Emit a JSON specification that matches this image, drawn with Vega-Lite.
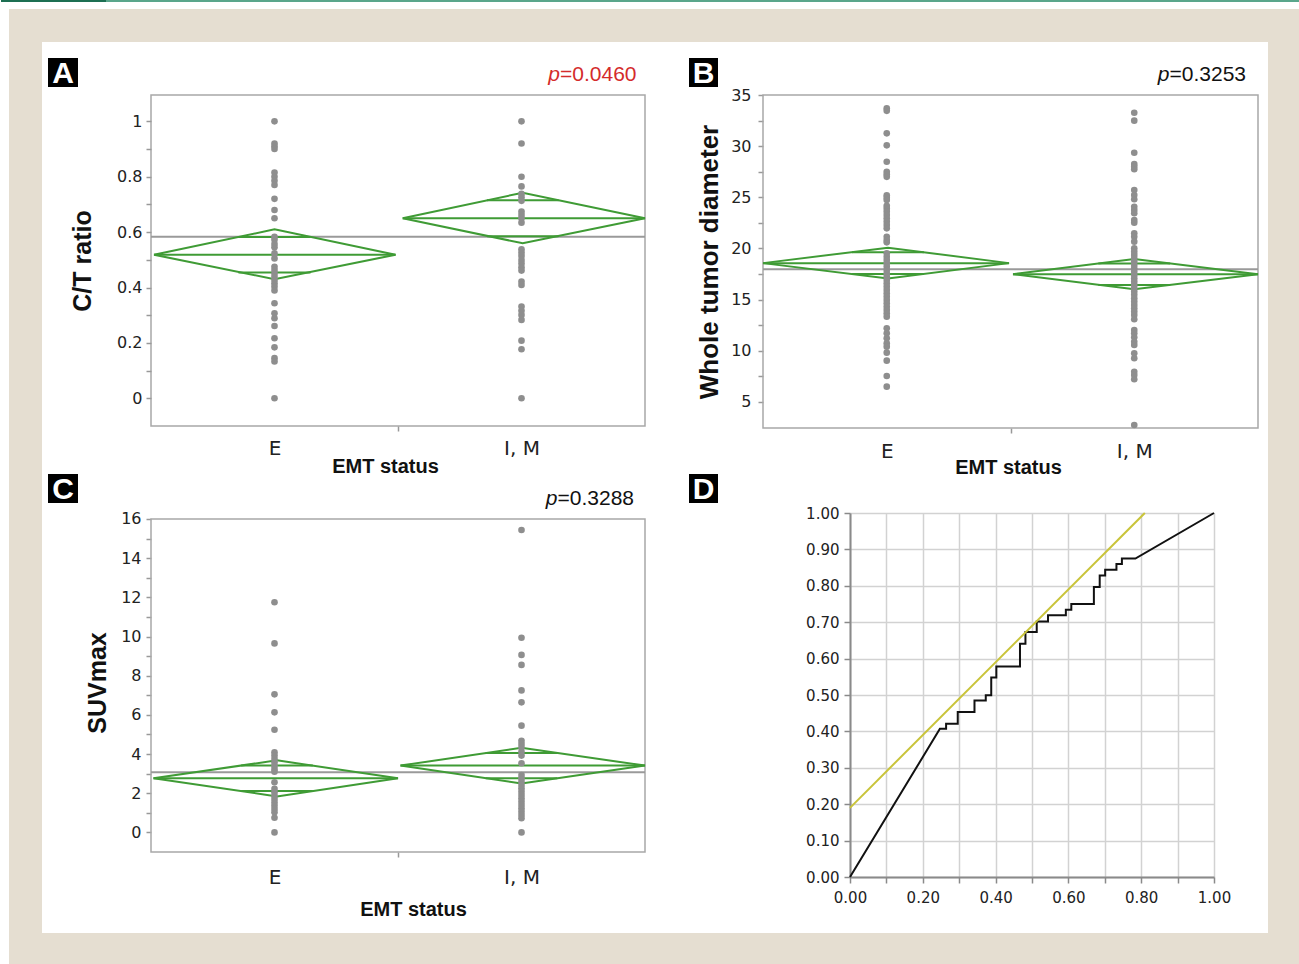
{
"$schema": "https://vega.github.io/schema/vega-lite/v6.json",
"padding": 0,
"background": "white",
"config": {"view": {"stroke": null}, "axis": {"labelFont": "DejaVu Sans", "labelColor": "#222222", "titleColor": "#111111", "tickCount": 100}},
"datasets": {
"groups": [{"g": "E", "gx": 1}, {"g": "I, M", "gx": 2}],
"pts": [
{"p":"A","g":"E","v":1.0},{"p":"A","g":"E","v":0.92},{"p":"A","g":"E","v":0.91},{"p":"A","g":"E","v":0.90},{"p":"A","g":"E","v":0.815},{"p":"A","g":"E","v":0.80},{"p":"A","g":"E","v":0.785},{"p":"A","g":"E","v":0.77},{"p":"A","g":"E","v":0.72},{"p":"A","g":"E","v":0.68},{"p":"A","g":"E","v":0.65},{"p":"A","g":"E","v":0.583},{"p":"A","g":"E","v":0.572},{"p":"A","g":"E","v":0.557},{"p":"A","g":"E","v":0.545},{"p":"A","g":"E","v":0.523},{"p":"A","g":"E","v":0.505},{"p":"A","g":"E","v":0.475},{"p":"A","g":"E","v":0.463},{"p":"A","g":"E","v":0.451},{"p":"A","g":"E","v":0.439},{"p":"A","g":"E","v":0.427},{"p":"A","g":"E","v":0.415},{"p":"A","g":"E","v":0.403},{"p":"A","g":"E","v":0.389},{"p":"A","g":"E","v":0.343},{"p":"A","g":"E","v":0.307},{"p":"A","g":"E","v":0.289},{"p":"A","g":"E","v":0.261},{"p":"A","g":"E","v":0.217},{"p":"A","g":"E","v":0.184},{"p":"A","g":"E","v":0.145},{"p":"A","g":"E","v":0.133},{"p":"A","g":"E","v":0.0},
{"p":"A","g":"I, M","v":1.0},{"p":"A","g":"I, M","v":0.92},{"p":"A","g":"I, M","v":0.80},{"p":"A","g":"I, M","v":0.765},{"p":"A","g":"I, M","v":0.738},{"p":"A","g":"I, M","v":0.726},{"p":"A","g":"I, M","v":0.713},{"p":"A","g":"I, M","v":0.674},{"p":"A","g":"I, M","v":0.662},{"p":"A","g":"I, M","v":0.65},{"p":"A","g":"I, M","v":0.634},{"p":"A","g":"I, M","v":0.538},{"p":"A","g":"I, M","v":0.526},{"p":"A","g":"I, M","v":0.514},{"p":"A","g":"I, M","v":0.499},{"p":"A","g":"I, M","v":0.487},{"p":"A","g":"I, M","v":0.473},{"p":"A","g":"I, M","v":0.461},{"p":"A","g":"I, M","v":0.421},{"p":"A","g":"I, M","v":0.409},{"p":"A","g":"I, M","v":0.331},{"p":"A","g":"I, M","v":0.316},{"p":"A","g":"I, M","v":0.301},{"p":"A","g":"I, M","v":0.283},{"p":"A","g":"I, M","v":0.208},{"p":"A","g":"I, M","v":0.177},{"p":"A","g":"I, M","v":0.0},
{"p":"B","g":"E","v":33.7},{"p":"B","g":"E","v":33.45},{"p":"B","g":"E","v":31.25},{"p":"B","g":"E","v":30.08},{"p":"B","g":"E","v":28.48},{"p":"B","g":"E","v":27.5},{"p":"B","g":"E","v":27.25},{"p":"B","g":"E","v":27.0},{"p":"B","g":"E","v":25.2},{"p":"B","g":"E","v":24.97},{"p":"B","g":"E","v":24.74},{"p":"B","g":"E","v":24.18},{"p":"B","g":"E","v":23.92},{"p":"B","g":"E","v":23.6},{"p":"B","g":"E","v":23.27},{"p":"B","g":"E","v":22.95},{"p":"B","g":"E","v":22.62},{"p":"B","g":"E","v":22.3},{"p":"B","g":"E","v":21.97},{"p":"B","g":"E","v":21.15},{"p":"B","g":"E","v":20.83},{"p":"B","g":"E","v":20.6},{"p":"B","g":"E","v":19.53},{"p":"B","g":"E","v":19.2},{"p":"B","g":"E","v":18.88},{"p":"B","g":"E","v":18.55},{"p":"B","g":"E","v":18.23},{"p":"B","g":"E","v":17.9},{"p":"B","g":"E","v":17.58},{"p":"B","g":"E","v":17.25},{"p":"B","g":"E","v":16.92},{"p":"B","g":"E","v":16.6},{"p":"B","g":"E","v":16.27},{"p":"B","g":"E","v":15.94},{"p":"B","g":"E","v":15.62},{"p":"B","g":"E","v":15.29},{"p":"B","g":"E","v":14.97},{"p":"B","g":"E","v":14.64},{"p":"B","g":"E","v":14.31},{"p":"B","g":"E","v":13.99},{"p":"B","g":"E","v":13.66},{"p":"B","g":"E","v":13.34},{"p":"B","g":"E","v":12.2},{"p":"B","g":"E","v":11.71},{"p":"B","g":"E","v":11.23},{"p":"B","g":"E","v":10.74},{"p":"B","g":"E","v":10.41},{"p":"B","g":"E","v":9.82},{"p":"B","g":"E","v":9.04},{"p":"B","g":"E","v":7.54},{"p":"B","g":"E","v":6.5},
{"p":"B","g":"I, M","v":33.27},{"p":"B","g":"I, M","v":32.49},{"p":"B","g":"I, M","v":29.36},{"p":"B","g":"I, M","v":28.26},{"p":"B","g":"I, M","v":28.0},{"p":"B","g":"I, M","v":27.74},{"p":"B","g":"I, M","v":25.72},{"p":"B","g":"I, M","v":25.23},{"p":"B","g":"I, M","v":24.81},{"p":"B","g":"I, M","v":24.08},{"p":"B","g":"I, M","v":23.76},{"p":"B","g":"I, M","v":23.44},{"p":"B","g":"I, M","v":22.78},{"p":"B","g":"I, M","v":22.52},{"p":"B","g":"I, M","v":21.48},{"p":"B","g":"I, M","v":21.15},{"p":"B","g":"I, M","v":20.67},{"p":"B","g":"I, M","v":20.02},{"p":"B","g":"I, M","v":19.69},{"p":"B","g":"I, M","v":19.37},{"p":"B","g":"I, M","v":19.04},{"p":"B","g":"I, M","v":18.72},{"p":"B","g":"I, M","v":18.39},{"p":"B","g":"I, M","v":18.07},{"p":"B","g":"I, M","v":17.74},{"p":"B","g":"I, M","v":17.42},{"p":"B","g":"I, M","v":17.09},{"p":"B","g":"I, M","v":16.77},{"p":"B","g":"I, M","v":16.44},{"p":"B","g":"I, M","v":16.12},{"p":"B","g":"I, M","v":15.79},{"p":"B","g":"I, M","v":15.47},{"p":"B","g":"I, M","v":15.14},{"p":"B","g":"I, M","v":14.81},{"p":"B","g":"I, M","v":14.49},{"p":"B","g":"I, M","v":14.16},{"p":"B","g":"I, M","v":13.84},{"p":"B","g":"I, M","v":13.51},{"p":"B","g":"I, M","v":13.09},{"p":"B","g":"I, M","v":12.04},{"p":"B","g":"I, M","v":11.71},{"p":"B","g":"I, M","v":11.32},{"p":"B","g":"I, M","v":10.89},{"p":"B","g":"I, M","v":10.57},{"p":"B","g":"I, M","v":9.76},{"p":"B","g":"I, M","v":9.27},{"p":"B","g":"I, M","v":7.96},{"p":"B","g":"I, M","v":7.64},{"p":"B","g":"I, M","v":7.22},{"p":"B","g":"I, M","v":2.75},
{"p":"C","g":"E","v":11.75},{"p":"C","g":"E","v":9.65},{"p":"C","g":"E","v":7.05},{"p":"C","g":"E","v":6.13},{"p":"C","g":"E","v":5.24},{"p":"C","g":"E","v":4.09},{"p":"C","g":"E","v":3.92},{"p":"C","g":"E","v":3.75},{"p":"C","g":"E","v":3.58},{"p":"C","g":"E","v":3.40},{"p":"C","g":"E","v":3.24},{"p":"C","g":"E","v":3.10},{"p":"C","g":"E","v":2.56},{"p":"C","g":"E","v":2.22},{"p":"C","g":"E","v":2.05},{"p":"C","g":"E","v":1.87},{"p":"C","g":"E","v":1.70},{"p":"C","g":"E","v":1.53},{"p":"C","g":"E","v":1.36},{"p":"C","g":"E","v":1.19},{"p":"C","g":"E","v":1.03},{"p":"C","g":"E","v":0.75},{"p":"C","g":"E","v":0.0},
{"p":"C","g":"I, M","v":15.44},{"p":"C","g":"I, M","v":9.94},{"p":"C","g":"I, M","v":9.06},{"p":"C","g":"I, M","v":8.55},{"p":"C","g":"I, M","v":7.25},{"p":"C","g":"I, M","v":6.64},{"p":"C","g":"I, M","v":5.45},{"p":"C","g":"I, M","v":4.68},{"p":"C","g":"I, M","v":4.51},{"p":"C","g":"I, M","v":4.34},{"p":"C","g":"I, M","v":4.12},{"p":"C","g":"I, M","v":3.92},{"p":"C","g":"I, M","v":3.53},{"p":"C","g":"I, M","v":2.93},{"p":"C","g":"I, M","v":2.76},{"p":"C","g":"I, M","v":2.59},{"p":"C","g":"I, M","v":2.42},{"p":"C","g":"I, M","v":2.25},{"p":"C","g":"I, M","v":2.08},{"p":"C","g":"I, M","v":1.91},{"p":"C","g":"I, M","v":1.74},{"p":"C","g":"I, M","v":1.57},{"p":"C","g":"I, M","v":1.40},{"p":"C","g":"I, M","v":1.23},{"p":"C","g":"I, M","v":1.06},{"p":"C","g":"I, M","v":0.89},{"p":"C","g":"I, M","v":0.72},{"p":"C","g":"I, M","v":0.0}
],
"diam": [
{"p":"A","g":"E","k":0,"x":0.512,"y":0.5185},{"p":"A","g":"E","k":1,"x":1.0,"y":0.610},{"p":"A","g":"E","k":2,"x":1.49,"y":0.5185},{"p":"A","g":"E","k":3,"x":1.0,"y":0.4297},{"p":"A","g":"E","k":4,"x":0.512,"y":0.5185},
{"p":"A","g":"I, M","k":0,"x":1.519,"y":0.650},{"p":"A","g":"I, M","k":1,"x":2.005,"y":0.7423},{"p":"A","g":"I, M","k":2,"x":2.5,"y":0.650},{"p":"A","g":"I, M","k":3,"x":2.005,"y":0.5596},{"p":"A","g":"I, M","k":4,"x":1.519,"y":0.650},
{"p":"B","g":"E","k":0,"x":0.5,"y":18.57},{"p":"B","g":"E","k":1,"x":1.005,"y":20.08},{"p":"B","g":"E","k":2,"x":1.494,"y":18.57},{"p":"B","g":"E","k":3,"x":1.005,"y":17.07},{"p":"B","g":"E","k":4,"x":0.5,"y":18.57},
{"p":"B","g":"I, M","k":0,"x":1.51,"y":17.49},{"p":"B","g":"I, M","k":1,"x":2.0,"y":18.97},{"p":"B","g":"I, M","k":2,"x":2.5,"y":17.49},{"p":"B","g":"I, M","k":3,"x":2.0,"y":16.01},{"p":"B","g":"I, M","k":4,"x":1.51,"y":17.49},
{"p":"C","g":"E","k":0,"x":0.51,"y":2.76},{"p":"C","g":"E","k":1,"x":1.01,"y":3.68},{"p":"C","g":"E","k":2,"x":1.5,"y":2.76},{"p":"C","g":"E","k":3,"x":1.01,"y":1.84},{"p":"C","g":"E","k":4,"x":0.51,"y":2.76},
{"p":"C","g":"I, M","k":0,"x":1.51,"y":3.41},{"p":"C","g":"I, M","k":1,"x":2.0,"y":4.32},{"p":"C","g":"I, M","k":2,"x":2.5,"y":3.41},{"p":"C","g":"I, M","k":3,"x":2.0,"y":2.50},{"p":"C","g":"I, M","k":4,"x":1.51,"y":3.41}
],
"seg": [
{"p":"A","g":"all","kind":"grand","x":0.5,"x2":2.5,"y":0.5835},
{"p":"A","g":"E","kind":"mean","x":0.512,"x2":1.49,"y":0.5185},{"p":"A","g":"E","kind":"upper","x":0.854,"x2":1.146,"y":0.5824},{"p":"A","g":"E","kind":"lower","x":0.854,"x2":1.146,"y":0.4546},
{"p":"A","g":"I, M","kind":"mean","x":1.519,"x2":2.5,"y":0.650},{"p":"A","g":"I, M","kind":"upper","x":1.86,"x2":2.15,"y":0.7146},{"p":"A","g":"I, M","kind":"lower","x":1.86,"x2":2.15,"y":0.5854},
{"p":"B","g":"all","kind":"grand","x":0.5,"x2":2.5,"y":17.97},
{"p":"B","g":"E","kind":"mean","x":0.5,"x2":1.494,"y":18.57},{"p":"B","g":"E","kind":"upper","x":0.86,"x2":1.15,"y":19.63},{"p":"B","g":"E","kind":"lower","x":0.86,"x2":1.15,"y":17.51},
{"p":"B","g":"I, M","kind":"mean","x":1.51,"x2":2.5,"y":17.49},{"p":"B","g":"I, M","kind":"upper","x":1.855,"x2":2.145,"y":18.54},{"p":"B","g":"I, M","kind":"lower","x":1.855,"x2":2.145,"y":16.44},
{"p":"C","g":"all","kind":"grand","x":0.5,"x2":2.5,"y":3.07},
{"p":"C","g":"E","kind":"mean","x":0.51,"x2":1.5,"y":2.76},{"p":"C","g":"E","kind":"upper","x":0.865,"x2":1.155,"y":3.41},{"p":"C","g":"E","kind":"lower","x":0.865,"x2":1.155,"y":2.11},
{"p":"C","g":"I, M","kind":"mean","x":1.51,"x2":2.5,"y":3.41},{"p":"C","g":"I, M","kind":"upper","x":1.855,"x2":2.145,"y":4.05},{"p":"C","g":"I, M","kind":"lower","x":1.855,"x2":2.145,"y":2.77}
],
"roc": [
{"i":0,"fpr":0,"tpr":0},{"i":1,"fpr":0.247,"tpr":0.407},{"i":2,"fpr":0.264,"tpr":0.407},{"i":3,"fpr":0.264,"tpr":0.421},{"i":4,"fpr":0.296,"tpr":0.421},{"i":5,"fpr":0.296,"tpr":0.453},{"i":6,"fpr":0.342,"tpr":0.453},{"i":7,"fpr":0.342,"tpr":0.485},{"i":8,"fpr":0.373,"tpr":0.485},{"i":9,"fpr":0.373,"tpr":0.499},{"i":10,"fpr":0.388,"tpr":0.499},{"i":11,"fpr":0.388,"tpr":0.548},{"i":12,"fpr":0.402,"tpr":0.548},{"i":13,"fpr":0.402,"tpr":0.578},{"i":14,"fpr":0.467,"tpr":0.578},{"i":15,"fpr":0.467,"tpr":0.641},{"i":16,"fpr":0.482,"tpr":0.641},{"i":17,"fpr":0.482,"tpr":0.673},{"i":18,"fpr":0.513,"tpr":0.673},{"i":19,"fpr":0.513,"tpr":0.702},{"i":20,"fpr":0.544,"tpr":0.702},{"i":21,"fpr":0.544,"tpr":0.719},{"i":22,"fpr":0.593,"tpr":0.719},{"i":23,"fpr":0.593,"tpr":0.734},{"i":24,"fpr":0.608,"tpr":0.734},{"i":25,"fpr":0.608,"tpr":0.75},{"i":26,"fpr":0.670,"tpr":0.75},{"i":27,"fpr":0.670,"tpr":0.797},{"i":28,"fpr":0.686,"tpr":0.797},{"i":29,"fpr":0.686,"tpr":0.828},{"i":30,"fpr":0.701,"tpr":0.828},{"i":31,"fpr":0.701,"tpr":0.844},{"i":32,"fpr":0.732,"tpr":0.844},{"i":33,"fpr":0.732,"tpr":0.860},{"i":34,"fpr":0.747,"tpr":0.860},{"i":35,"fpr":0.747,"tpr":0.875},{"i":36,"fpr":0.784,"tpr":0.875},{"i":37,"fpr":1,"tpr":1}
],
"ref": [{"fpr":0,"tpr":0.19},{"fpr":0.81,"tpr":1.0}]
},
"spacing": 418,
"bounds": "flush",
"vconcat": [
{
"spacing": 118,
"bounds": "flush",
"hconcat": [
{
"width": 494, "height": 331,
"layer": [
{"data":{"values":[{}]},"mark":{"type":"rect","fill":"#e5ded1"},"encoding":{"x":{"datum":-0.0749,"type":"quantitative","scale":{"domain":[0.5,2.5],"nice":false,"zero":false}},"x2":{"datum":5.15182},"y":{"datum":1.40547,"type":"quantitative","scale":{"domain":[-0.1,1.095],"nice":false,"zero":false}},"y2":{"datum":-2.04223}}},
{"data":{"values":[{}]},"mark":{"type":"rect","fill":"#ffffff"},"encoding":{"x":{"datum":0.0587,"type":"quantitative","scale":{"domain":[0.5,2.5],"nice":false,"zero":false}},"x2":{"datum":5.02227},"y":{"datum":1.28634,"type":"quantitative","scale":{"domain":[-0.1,1.095],"nice":false,"zero":false}},"y2":{"datum":-1.93032}}},
{"data":{"values":[{}]},"mark":{"type":"rect","fill":"#1d6f52"},"encoding":{"x":{"datum":-0.10729,"type":"quantitative","scale":{"domain":[0.5,2.5],"nice":false,"zero":false}},"x2":{"datum":0.31781},"y":{"datum":1.43796,"type":"quantitative","scale":{"domain":[-0.1,1.095],"nice":false,"zero":false}},"y2":{"datum":1.43074}}},
{"data":{"values":[{}]},"mark":{"type":"rect","fill":"#5aa68b"},"encoding":{"x":{"datum":0.31781,"type":"quantitative","scale":{"domain":[0.5,2.5],"nice":false,"zero":false}},"x2":{"datum":5.15182},"y":{"datum":1.43796,"type":"quantitative","scale":{"domain":[-0.1,1.095],"nice":false,"zero":false}},"y2":{"datum":1.43074}}},
{"data":{"values":[{}]},"mark":{"type":"rect","filled":false,"color":"#a8a8a8","strokeWidth":1.5},"encoding":{
 "x":{"datum":0.5,"type":"quantitative","scale":{"domain":[0.5,2.5],"nice":false,"zero":false},"axis":{"title":"EMT status","titleX":234,"titlePadding":-2,"titleFont":"Liberation Sans","titleFontSize":20,"titleFontWeight":"bold","values":[1,1.5,2],"tickCount":100,"labelExpr":"datum.value == 1 ? 'E' : (datum.value == 2 ? 'I, M' : '')","labelFontSize":20,"labelPadding":7,"labelOverlap":false,"labelFlush":false,"domain":false,"grid":false,"tickSize":5,"tickWidth":1.5,"tickColor":{"condition":{"test":"datum.value == 1.5","value":"#999999"},"value":"transparent"},"zindex":1}},
 "x2":{"datum":2.5},
 "y":{"datum":-0.1,"type":"quantitative","scale":{"domain":[-0.1,1.095],"nice":false,"zero":false},"axis":{"title":"C/T ratio","titlePadding":21,"titleFont":"Liberation Sans","titleFontSize":25,"titleFontWeight":"bold","values":[0,0.1,0.2,0.3,0.4,0.5,0.6,0.7,0.8,0.9,1],"tickCount":100,"labelExpr":"round(datum.value*10) % 2 == 0 ? format(datum.value,'~g') : ''","labelFontSize":16,"labelPadding":4,"labelOverlap":false,"labelFlush":false,"domain":false,"grid":false,"tickSize":5,"tickWidth":1.5,"tickColor":"#999999","zindex":1}},
 "y2":{"datum":1.095}}},
{"data":{"name":"seg"},"transform":[{"filter":"datum.p == 'A' && datum.kind == 'grand'"}],"mark":{"type":"rule","color":"#9a9a9a","strokeWidth":2},"encoding":{"x":{"field":"x","type":"quantitative","scale":{"domain":[0.5,2.5],"nice":false,"zero":false}},"x2":{"field":"x2"},"y":{"field":"y","type":"quantitative","scale":{"domain":[-0.1,1.095],"nice":false,"zero":false}}}},
{"data":{"name":"diam"},"transform":[{"filter":"datum.p == 'A'"}],"mark":{"type":"line","color":"#3f9b35","strokeWidth":2},"encoding":{"x":{"field":"x","type":"quantitative","scale":{"domain":[0.5,2.5],"nice":false,"zero":false}},"y":{"field":"y","type":"quantitative","scale":{"domain":[-0.1,1.095],"nice":false,"zero":false}},"detail":{"field":"g"},"order":{"field":"k"}}},
{"data":{"name":"seg"},"transform":[{"filter":"datum.p == 'A' && datum.kind != 'grand'"}],"mark":{"type":"rule","color":"#3f9b35","strokeWidth":2},"encoding":{"x":{"field":"x","type":"quantitative","scale":{"domain":[0.5,2.5],"nice":false,"zero":false}},"x2":{"field":"x2"},"y":{"field":"y","type":"quantitative","scale":{"domain":[-0.1,1.095],"nice":false,"zero":false}}}},
{"data":{"name":"pts"},"transform":[{"filter":"datum.p == 'A'"},{"lookup":"g","from":{"data":{"name":"groups"},"key":"g","fields":["gx"]}}],"mark":{"type":"circle","size":44,"color":"#8e8e8e","opacity":1},"encoding":{"x":{"field":"gx","type":"quantitative","scale":{"domain":[0.5,2.5],"nice":false,"zero":false}},"y":{"field":"v","type":"quantitative","scale":{"domain":[-0.1,1.095],"nice":false,"zero":false}}}},
{"data":{"values":[{}]},"mark":{"type":"rect","fill":"#000000"},"encoding":{"x":{"datum":0.083,"type":"quantitative","scale":{"domain":[0.5,2.5],"nice":false,"zero":false}},"x2":{"datum":0.20445},"y":{"datum":1.22857,"type":"quantitative","scale":{"domain":[-0.1,1.095],"nice":false,"zero":false}},"y2":{"datum":1.12388}}},
{"data":{"values":[{}]},"mark":{"type":"text","text":"A","font":"Liberation Sans","fontWeight":"bold","fontSize":30,"color":"#ffffff","align":"center","baseline":"alphabetic"},"encoding":{"x":{"datum":0.14372,"type":"quantitative","scale":{"domain":[0.5,2.5],"nice":false,"zero":false}},"y":{"datum":1.1383,"type":"quantitative","scale":{"domain":[-0.1,1.095],"nice":false,"zero":false}}}},
{"data":{"values":[{}]},"mark":{"type":"text","text":"p","font":"Liberation Sans","fontStyle":"italic","fontSize":21,"color":"#d42b2b","align":"right","baseline":"alphabetic"},"encoding":{"x":{"datum":2.15587,"type":"quantitative","scale":{"domain":[0.5,2.5],"nice":false,"zero":false}},"y":{"datum":1.14662,"type":"quantitative","scale":{"domain":[-0.1,1.095],"nice":false,"zero":false}}}},
{"data":{"values":[{}]},"mark":{"type":"text","text":"=0.0460","font":"Liberation Sans","fontSize":21,"color":"#d42b2b","align":"left","baseline":"alphabetic"},"encoding":{"x":{"datum":2.15587,"type":"quantitative","scale":{"domain":[0.5,2.5],"nice":false,"zero":false}},"y":{"datum":1.14662,"type":"quantitative","scale":{"domain":[-0.1,1.095],"nice":false,"zero":false}}}}
]
},
{
"width": 495, "height": 333,
"layer": [
{"data":{"values":[{}]},"mark":{"type":"rect","filled":false,"color":"#a8a8a8","strokeWidth":1.5},"encoding":{
 "x":{"datum":0.5,"type":"quantitative","scale":{"domain":[0.5,2.5],"nice":false,"zero":false},"axis":{"title":"EMT status","titleX":245,"titlePadding":-4,"titleFont":"Liberation Sans","titleFontSize":20,"titleFontWeight":"bold","values":[1,1.5,2],"tickCount":100,"labelExpr":"datum.value == 1 ? 'E' : (datum.value == 2 ? 'I, M' : '')","labelFontSize":20,"labelPadding":8,"labelOverlap":false,"labelFlush":false,"domain":false,"grid":false,"tickSize":5,"tickWidth":1.5,"tickColor":{"condition":{"test":"datum.value == 1.5","value":"#999999"},"value":"transparent"}}},
 "x2":{"datum":2.5},
 "y":{"datum":2.458,"type":"quantitative","scale":{"domain":[2.458,35],"nice":false,"zero":false},"axis":{"title":"Whole tumor diameter","titlePadding":8,"titleFont":"Liberation Sans","titleFontSize":26,"titleFontWeight":"bold","values":[5,7.5,10,12.5,15,17.5,20,22.5,25,27.5,30,32.5,35],"tickCount":100,"labelExpr":"datum.value % 5 == 0 ? format(datum.value,'d') : ''","labelFontSize":16,"labelPadding":7,"labelOverlap":false,"labelFlush":false,"domain":false,"grid":false,"tickSize":5,"tickWidth":1.5,"tickColor":"#999999"}},
 "y2":{"datum":35}}},
{"data":{"name":"seg"},"transform":[{"filter":"datum.p == 'B' && datum.kind == 'grand'"}],"mark":{"type":"rule","color":"#9a9a9a","strokeWidth":2},"encoding":{"x":{"field":"x","type":"quantitative","scale":{"domain":[0.5,2.5],"nice":false,"zero":false}},"x2":{"field":"x2"},"y":{"field":"y","type":"quantitative","scale":{"domain":[2.458,35],"nice":false,"zero":false}}}},
{"data":{"name":"diam"},"transform":[{"filter":"datum.p == 'B'"}],"mark":{"type":"line","color":"#3f9b35","strokeWidth":2},"encoding":{"x":{"field":"x","type":"quantitative","scale":{"domain":[0.5,2.5],"nice":false,"zero":false}},"y":{"field":"y","type":"quantitative","scale":{"domain":[2.458,35],"nice":false,"zero":false}},"detail":{"field":"g"},"order":{"field":"k"}}},
{"data":{"name":"seg"},"transform":[{"filter":"datum.p == 'B' && datum.kind != 'grand'"}],"mark":{"type":"rule","color":"#3f9b35","strokeWidth":2},"encoding":{"x":{"field":"x","type":"quantitative","scale":{"domain":[0.5,2.5],"nice":false,"zero":false}},"x2":{"field":"x2"},"y":{"field":"y","type":"quantitative","scale":{"domain":[2.458,35],"nice":false,"zero":false}}}},
{"data":{"name":"pts"},"transform":[{"filter":"datum.p == 'B'"},{"lookup":"g","from":{"data":{"name":"groups"},"key":"g","fields":["gx"]}}],"mark":{"type":"circle","size":44,"color":"#8e8e8e","opacity":1},"encoding":{"x":{"field":"gx","type":"quantitative","scale":{"domain":[0.5,2.5],"nice":false,"zero":false}},"y":{"field":"v","type":"quantitative","scale":{"domain":[2.458,35],"nice":false,"zero":false}}}},
{"data":{"values":[{}]},"mark":{"type":"rect","fill":"#000000"},"encoding":{"x":{"datum":0.20101,"type":"quantitative","scale":{"domain":[0.5,2.5],"nice":false,"zero":false}},"x2":{"datum":0.31818},"y":{"datum":38.6158,"type":"quantitative","scale":{"domain":[2.458,35],"nice":false,"zero":false}},"y2":{"datum":35.7818}}},
{"data":{"values":[{}]},"mark":{"type":"text","text":"B","font":"Liberation Sans","fontWeight":"bold","fontSize":30,"color":"#ffffff","align":"center","baseline":"alphabetic"},"encoding":{"x":{"datum":0.2596,"type":"quantitative","scale":{"domain":[0.5,2.5],"nice":false,"zero":false}},"y":{"datum":36.1727,"type":"quantitative","scale":{"domain":[2.458,35],"nice":false,"zero":false}}}},
{"data":{"values":[{}]},"mark":{"type":"text","text":"p","font":"Liberation Sans","fontStyle":"italic","fontSize":21,"color":"#111111","align":"right","baseline":"alphabetic"},"encoding":{"x":{"datum":2.14242,"type":"quantitative","scale":{"domain":[0.5,2.5],"nice":false,"zero":false}},"y":{"datum":36.3975,"type":"quantitative","scale":{"domain":[2.458,35],"nice":false,"zero":false}}}},
{"data":{"values":[{}]},"mark":{"type":"text","text":"=0.3253","font":"Liberation Sans","fontSize":21,"color":"#111111","align":"left","baseline":"alphabetic"},"encoding":{"x":{"datum":2.14242,"type":"quantitative","scale":{"domain":[0.5,2.5],"nice":false,"zero":false}},"y":{"datum":36.3975,"type":"quantitative","scale":{"domain":[2.458,35],"nice":false,"zero":false}}}}
]
}
]
},
{
"spacing": 205,
"bounds": "flush",
"hconcat": [
{
"width": 494, "height": 339,
"layer": [
{"data":{"values":[{}]},"mark":{"type":"rect","filled":false,"color":"#a8a8a8","strokeWidth":1.5},"encoding":{
 "x":{"datum":0.5,"type":"quantitative","scale":{"domain":[0.5,2.5],"nice":false,"zero":false},"axis":{"title":"EMT status","titleX":262,"titlePadding":12,"titleFont":"Liberation Sans","titleFontSize":20,"titleFontWeight":"bold","values":[1,1.5,2],"tickCount":100,"labelExpr":"datum.value == 1 ? 'E' : (datum.value == 2 ? 'I, M' : '')","labelFontSize":20,"labelPadding":10,"labelOverlap":false,"labelFlush":false,"domain":false,"grid":false,"tickSize":5,"tickWidth":1.5,"tickColor":{"condition":{"test":"datum.value == 1.5","value":"#999999"},"value":"transparent"}}},
 "x2":{"datum":2.5},
 "y":{"datum":-1,"type":"quantitative","scale":{"domain":[-1,16.306],"nice":false,"zero":false},"axis":{"title":"SUVmax","titlePadding":10,"titleFont":"Liberation Sans","titleFontSize":25,"titleFontWeight":"bold","values":[0,1,2,3,4,5,6,7,8,9,10,11,12,13,14,15,16],"tickCount":100,"labelExpr":"datum.value % 2 == 0 ? format(datum.value,'d') : ''","labelFontSize":16,"labelPadding":5,"labelOverlap":false,"labelFlush":false,"domain":false,"grid":false,"tickSize":5,"tickWidth":1.5,"tickColor":"#999999"}},
 "y2":{"datum":16}}},
{"data":{"name":"seg"},"transform":[{"filter":"datum.p == 'C' && datum.kind == 'grand'"}],"mark":{"type":"rule","color":"#9a9a9a","strokeWidth":2},"encoding":{"x":{"field":"x","type":"quantitative","scale":{"domain":[0.5,2.5],"nice":false,"zero":false}},"x2":{"field":"x2"},"y":{"field":"y","type":"quantitative","scale":{"domain":[-1,16.306],"nice":false,"zero":false}}}},
{"data":{"name":"diam"},"transform":[{"filter":"datum.p == 'C'"}],"mark":{"type":"line","color":"#3f9b35","strokeWidth":2},"encoding":{"x":{"field":"x","type":"quantitative","scale":{"domain":[0.5,2.5],"nice":false,"zero":false}},"y":{"field":"y","type":"quantitative","scale":{"domain":[-1,16.306],"nice":false,"zero":false}},"detail":{"field":"g"},"order":{"field":"k"}}},
{"data":{"name":"seg"},"transform":[{"filter":"datum.p == 'C' && datum.kind != 'grand'"}],"mark":{"type":"rule","color":"#3f9b35","strokeWidth":2},"encoding":{"x":{"field":"x","type":"quantitative","scale":{"domain":[0.5,2.5],"nice":false,"zero":false}},"x2":{"field":"x2"},"y":{"field":"y","type":"quantitative","scale":{"domain":[-1,16.306],"nice":false,"zero":false}}}},
{"data":{"name":"pts"},"transform":[{"filter":"datum.p == 'C'"},{"lookup":"g","from":{"data":{"name":"groups"},"key":"g","fields":["gx"]}}],"mark":{"type":"circle","size":44,"color":"#8e8e8e","opacity":1},"encoding":{"x":{"field":"gx","type":"quantitative","scale":{"domain":[0.5,2.5],"nice":false,"zero":false}},"y":{"field":"v","type":"quantitative","scale":{"domain":[-1,16.306],"nice":false,"zero":false}}}},
{"data":{"values":[{}]},"mark":{"type":"rect","fill":"#000000"},"encoding":{"x":{"datum":0.083,"type":"quantitative","scale":{"domain":[0.5,2.5],"nice":false,"zero":false}},"x2":{"datum":0.20445},"y":{"datum":18.295,"type":"quantitative","scale":{"domain":[-1,16.306],"nice":false,"zero":false}},"y2":{"datum":16.8147}}},
{"data":{"values":[{}]},"mark":{"type":"text","text":"C","font":"Liberation Sans","fontWeight":"bold","fontSize":30,"color":"#ffffff","align":"center","baseline":"alphabetic"},"encoding":{"x":{"datum":0.14372,"type":"quantitative","scale":{"domain":[0.5,2.5],"nice":false,"zero":false}},"y":{"datum":17.019,"type":"quantitative","scale":{"domain":[-1,16.306],"nice":false,"zero":false}}}},
{"data":{"values":[{}]},"mark":{"type":"text","text":"p","font":"Liberation Sans","fontStyle":"italic","fontSize":21,"color":"#111111","align":"right","baseline":"alphabetic"},"encoding":{"x":{"datum":2.14575,"type":"quantitative","scale":{"domain":[0.5,2.5],"nice":false,"zero":false}},"y":{"datum":16.7126,"type":"quantitative","scale":{"domain":[-1,16.306],"nice":false,"zero":false}}}},
{"data":{"values":[{}]},"mark":{"type":"text","text":"=0.3288","font":"Liberation Sans","fontSize":21,"color":"#111111","align":"left","baseline":"alphabetic"},"encoding":{"x":{"datum":2.14575,"type":"quantitative","scale":{"domain":[0.5,2.5],"nice":false,"zero":false}},"y":{"datum":16.7126,"type":"quantitative","scale":{"domain":[-1,16.306],"nice":false,"zero":false}}}}
]
},
{
"width": 364, "height": 364,
"layer": [
{"data":{"name":"roc"},"mark":{"type":"line","color":"#111111","strokeWidth":2},"encoding":{
 "x":{"field":"fpr","type":"quantitative","scale":{"domain":[0,1],"nice":false,"zero":false},"axis":{"title":null,"values":[0,0.1,0.2,0.3,0.4,0.5,0.6,0.7,0.8,0.9,1],"tickCount":100,"labelExpr":"round(datum.value*10) % 2 == 0 ? format(datum.value,'.2f') : ''","grid":true,"gridColor":"#d2d2d2","gridWidth":1.5,"domainColor":"#8a8a8a","domainWidth":2,"tickColor":"#8a8a8a","tickSize":6,"tickWidth":1.5,"labelFontSize":15,"labelPadding":7,"labelOverlap":false,"labelFlush":false}},
 "y":{"field":"tpr","type":"quantitative","scale":{"domain":[0,1],"nice":false,"zero":false},"axis":{"title":null,"values":[0,0.1,0.2,0.3,0.4,0.5,0.6,0.7,0.8,0.9,1],"tickCount":100,"labelExpr":"format(datum.value,'.2f')","grid":true,"gridColor":"#d2d2d2","gridWidth":1.5,"domainColor":"#8a8a8a","domainWidth":2,"tickColor":"#8a8a8a","tickSize":6,"tickWidth":1.5,"labelFontSize":15,"labelPadding":5,"labelOverlap":false,"labelFlush":false}},
 "order":{"field":"i"}}},
{"data":{"name":"ref"},"mark":{"type":"line","color":"#c9c43a","strokeWidth":2},"encoding":{
 "x":{"field":"fpr","type":"quantitative","scale":{"domain":[0,1],"nice":false,"zero":false},"axis":{"title":null,"values":[0,0.1,0.2,0.3,0.4,0.5,0.6,0.7,0.8,0.9,1],"tickCount":100,"labelExpr":"round(datum.value*10) % 2 == 0 ? format(datum.value,'.2f') : ''","grid":true,"gridColor":"#d2d2d2","gridWidth":1.5,"domainColor":"#8a8a8a","domainWidth":2,"tickColor":"#8a8a8a","tickSize":6,"tickWidth":1.5,"labelFontSize":15,"labelPadding":7,"labelOverlap":false,"labelFlush":false}},
 "y":{"field":"tpr","type":"quantitative","scale":{"domain":[0,1],"nice":false,"zero":false},"axis":{"title":null,"values":[0,0.1,0.2,0.3,0.4,0.5,0.6,0.7,0.8,0.9,1],"tickCount":100,"labelExpr":"format(datum.value,'.2f')","grid":true,"gridColor":"#d2d2d2","gridWidth":1.5,"domainColor":"#8a8a8a","domainWidth":2,"tickColor":"#8a8a8a","tickSize":6,"tickWidth":1.5,"labelFontSize":15,"labelPadding":5,"labelOverlap":false,"labelFlush":false}}}},
{"data":{"values":[{}]},"mark":{"type":"rect","fill":"#000000"},"encoding":{"x":{"datum":-0.44231,"type":"quantitative","scale":{"domain":[0,1],"nice":false,"zero":false}},"x2":{"datum":-0.36264},"y":{"datum":1.10714,"type":"quantitative","scale":{"domain":[0,1],"nice":false,"zero":false}},"y2":{"datum":1.02747}}},
{"data":{"values":[{}]},"mark":{"type":"text","text":"D","font":"Liberation Sans","fontWeight":"bold","fontSize":30,"color":"#ffffff","align":"center","baseline":"alphabetic"},"encoding":{"x":{"datum":-0.40247,"type":"quantitative","scale":{"domain":[0,1],"nice":false,"zero":false}},"y":{"datum":1.03846,"type":"quantitative","scale":{"domain":[0,1],"nice":false,"zero":false}}}}
]
}
]
}
]
}
